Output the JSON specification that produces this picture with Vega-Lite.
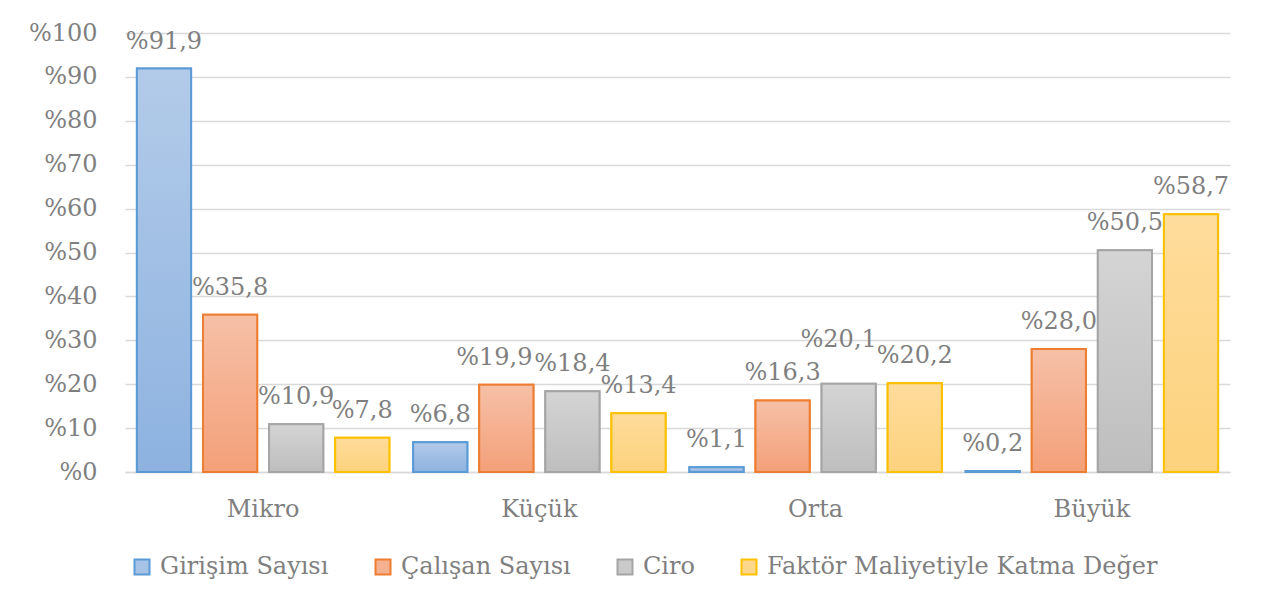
{
  "$schema": "https://vega.github.io/schema/vega-lite/v6.json",
  "autosize": {"type": "none"},
  "padding": {"left": 125, "top": 33, "right": 32, "bottom": 142},
  "width": 1105,
  "height": 439,
  "background": "white",
  "config": {
    "locale": {"number": {"decimal": ",", "thousands": ".", "grouping": [3], "currency": ["%", ""]}},
    "font": "DejaVu Serif",
    "view": {"stroke": null},
    "axis": {"labelFont": "DejaVu Serif", "labelFontSize": 24, "labelColor": "#7f7f7f", "title": null}
  },
  "data": {
    "values": [
      {"boyut": "Mikro", "seri": "Girişim Sayısı", "deger": 91.9},
      {"boyut": "Mikro", "seri": "Çalışan Sayısı", "deger": 35.8},
      {"boyut": "Mikro", "seri": "Ciro", "deger": 10.9},
      {"boyut": "Mikro", "seri": "Faktör Maliyetiyle Katma Değer", "deger": 7.8},
      {"boyut": "Küçük", "seri": "Girişim Sayısı", "deger": 6.8},
      {"boyut": "Küçük", "seri": "Çalışan Sayısı", "deger": 19.9},
      {"boyut": "Küçük", "seri": "Ciro", "deger": 18.4},
      {"boyut": "Küçük", "seri": "Faktör Maliyetiyle Katma Değer", "deger": 13.4},
      {"boyut": "Orta", "seri": "Girişim Sayısı", "deger": 1.1},
      {"boyut": "Orta", "seri": "Çalışan Sayısı", "deger": 16.3},
      {"boyut": "Orta", "seri": "Ciro", "deger": 20.1},
      {"boyut": "Orta", "seri": "Faktör Maliyetiyle Katma Değer", "deger": 20.2},
      {"boyut": "Büyük", "seri": "Girişim Sayısı", "deger": 0.2},
      {"boyut": "Büyük", "seri": "Çalışan Sayısı", "deger": 28.0},
      {"boyut": "Büyük", "seri": "Ciro", "deger": 50.5},
      {"boyut": "Büyük", "seri": "Faktör Maliyetiyle Katma Değer", "deger": 58.7}
    ]
  },
  "encoding": {
    "x": {
      "field": "boyut", "type": "nominal",
      "sort": ["Mikro", "Küçük", "Orta", "Büyük"],
      "scale": {"paddingInner": 0, "paddingOuter": 0},
      "axis": {"labelAngle": 0, "ticks": false, "labelPadding": 25, "domainColor": "#d9d9d9", "domainWidth": 1.5, "grid": false}
    },
    "xOffset": {
      "field": "seri", "type": "nominal",
      "sort": ["Girişim Sayısı", "Çalışan Sayısı", "Ciro", "Faktör Maliyetiyle Katma Değer"],
      "scale": {"paddingInner": 0.18, "paddingOuter": 0.18}
    },
    "y": {
      "field": "deger", "type": "quantitative",
      "scale": {"domain": [0, 100], "nice": false},
      "axis": {"values": [0, 10, 20, 30, 40, 50, 60, 70, 80, 90, 100], "format": "$.0f", "ticks": false, "domain": false, "labelPadding": 28, "gridColor": "#d9d9d9", "gridWidth": 1.5}
    }
  },
  "layer": [
    {
      "mark": {"type": "bar", "strokeWidth": 2},
      "encoding": {
        "fill": {
          "field": "seri", "type": "nominal",
          "sort": ["Girişim Sayısı", "Çalışan Sayısı", "Ciro", "Faktör Maliyetiyle Katma Değer"],
          "scale": {"domain": ["Girişim Sayısı", "Çalışan Sayısı", "Ciro", "Faktör Maliyetiyle Katma Değer"], "range": ["#a6c2e6", "#f5b08f", "#cacaca", "#fdd78b"]},
          "legend": {
            "orient": "none", "legendX": 5, "legendY": 522, "direction": "horizontal", "title": null,
            "symbolType": "square", "symbolSize": 225, "symbolStrokeWidth": 2,
            "labelFont": "DejaVu Serif", "labelFontSize": 24, "labelColor": "#7f7f7f",
            "labelOffset": 6, "columnPadding": 42, "labelLimit": 600
          }
        },
        "stroke": {
          "field": "seri", "type": "nominal",
          "sort": ["Girişim Sayısı", "Çalışan Sayısı", "Ciro", "Faktör Maliyetiyle Katma Değer"],
          "scale": {"domain": ["Girişim Sayısı", "Çalışan Sayısı", "Ciro", "Faktör Maliyetiyle Katma Değer"], "range": ["#5b9bd5", "#ed7d31", "#a5a5a5", "#ffc000"]},
          "legend": {
            "orient": "none", "legendX": 5, "legendY": 522, "direction": "horizontal", "title": null,
            "symbolType": "square", "symbolSize": 225, "symbolStrokeWidth": 2,
            "labelFont": "DejaVu Serif", "labelFontSize": 24, "labelColor": "#7f7f7f",
            "labelOffset": 6, "columnPadding": 42, "labelLimit": 600
          }
        }
      }
    },
    {
      "mark": {"type": "bar", "strokeWidth": 2},
      "encoding": {
        "fill": {
          "condition": [
            {"test": "datum.seri === 'Girişim Sayısı'", "value": {"gradient": "linear", "x1": 0, "y1": 0, "x2": 0, "y2": 1, "stops": [{"offset": 0, "color": "#b3cbe9"}, {"offset": 1, "color": "#8db2e0"}]}},
            {"test": "datum.seri === 'Çalışan Sayısı'", "value": {"gradient": "linear", "x1": 0, "y1": 0, "x2": 0, "y2": 1, "stops": [{"offset": 0, "color": "#f6c0a7"}, {"offset": 1, "color": "#f4a079"}]}},
            {"test": "datum.seri === 'Ciro'", "value": {"gradient": "linear", "x1": 0, "y1": 0, "x2": 0, "y2": 1, "stops": [{"offset": 0, "color": "#d4d4d4"}, {"offset": 1, "color": "#bebebe"}]}}
          ],
          "value": {"gradient": "linear", "x1": 0, "y1": 0, "x2": 0, "y2": 1, "stops": [{"offset": 0, "color": "#fedc9b"}, {"offset": 1, "color": "#fdd27d"}]}
        },
        "stroke": {
          "condition": [
            {"test": "datum.seri === 'Girişim Sayısı'", "value": "#5b9bd5"},
            {"test": "datum.seri === 'Çalışan Sayısı'", "value": "#ed7d31"},
            {"test": "datum.seri === 'Ciro'", "value": "#a5a5a5"}
          ],
          "value": "#ffc000"
        }
      }
    },
    {
      "transform": [{"filter": "!(datum.boyut === 'Orta' && datum.seri === 'Ciro') && !(datum.boyut === 'Küçük' && datum.seri === 'Çalışan Sayısı')"}],
      "mark": {"type": "text", "baseline": "middle", "align": "center", "dy": -27, "fontSize": 24, "font": "DejaVu Serif", "color": "#7f7f7f"},
      "encoding": {"text": {"field": "deger", "type": "quantitative", "format": "$.1f"}}
    },
    {
      "transform": [{"filter": "datum.boyut === 'Küçük' && datum.seri === 'Çalışan Sayısı'"}],
      "mark": {"type": "text", "baseline": "middle", "align": "center", "dy": -27, "dx": -12, "fontSize": 24, "font": "DejaVu Serif", "color": "#7f7f7f"},
      "encoding": {"text": {"field": "deger", "type": "quantitative", "format": "$.1f"}}
    },
    {
      "transform": [{"filter": "datum.boyut === 'Orta' && datum.seri === 'Ciro'"}],
      "mark": {"type": "text", "baseline": "middle", "align": "center", "dy": -44, "dx": -10, "fontSize": 24, "font": "DejaVu Serif", "color": "#7f7f7f"},
      "encoding": {"text": {"field": "deger", "type": "quantitative", "format": "$.1f"}}
    }
  ]
}
